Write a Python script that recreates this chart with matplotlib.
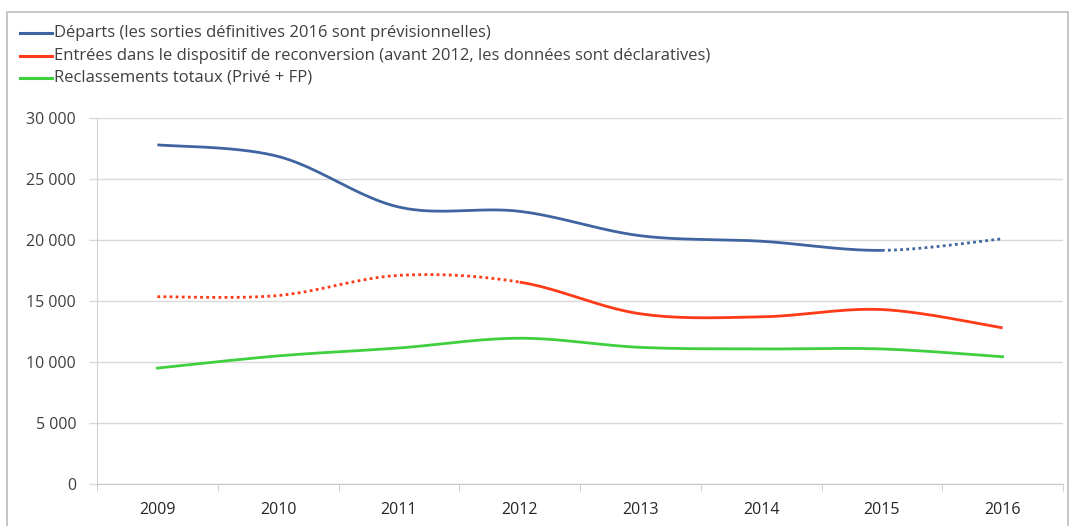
import numpy as np
import matplotlib
matplotlib.use("Agg")
import matplotlib.pyplot as plt
from matplotlib.lines import Line2D
from matplotlib.patches import Rectangle

plt.rcParams['font.family'] = ['Open Sans', 'DejaVu Sans']

years = ["2009", "2010", "2011", "2012", "2013", "2014", "2015", "2016"]
departs = [27800, 26850, 22700, 22350, 20350, 19900, 19150, 20100]
entrees = [15350, 15450, 17100, 16550, 13950, 13700, 14300, 12800]
reclassements = [9500, 10500, 11150, 11950, 11200, 11070, 11070, 10430]
labels = ["Départs (les sorties définitives 2016 sont prévisionnelles)",
          "Entrées dans le dispositif de reconversion (avant 2012, les données sont déclaratives)",
          "Reclassements totaux (Privé + FP)"]
colors = ["#3F64A0", "#FF3A17", "#3FCF3F"]
yticks = [0, 5000, 10000, 15000, 20000, 25000, 30000]

W, H = 1072, 526


def catmull(x, y, n=40):
    x = np.asarray(x, float); y = np.asarray(y, float)
    px = np.concatenate([[x[0]], x, [x[-1]]])
    py = np.concatenate([[y[0]], y, [y[-1]]])
    xs, ys, seg = [], [], []
    for i in range(1, len(px)-2):
        t = np.linspace(0, 1, n)
        p0, p1, p2, p3 = [np.array([px[j], py[j]]) for j in (i-1, i, i+1, i+2)]
        b1 = p1 + (p2 - p0) / 6
        b2 = p2 - (p3 - p1) / 6
        pts = ((1-t)**3)[:, None]*p1 + (3*(1-t)**2*t)[:, None]*b1 + (3*(1-t)*t**2)[:, None]*b2 + (t**3)[:, None]*p2
        xs.append(pts[:, 0]); ys.append(pts[:, 1]); seg.append(np.full(n, i-1))
    return np.concatenate(xs), np.concatenate(ys), np.concatenate(seg)


fig = plt.figure(figsize=(W/100, H/100), dpi=100)
ax = fig.add_axes([97/W, 1-484/H, (1063-97)/W, (484-118)/H])

xpos = np.arange(len(years))

# departs: solid up to 2015, dotted 2015-2016
sx, sy, sg = catmull(xpos, departs)
m = sg < 6
ax.plot(sx[m], sy[m], color=colors[0], lw=2.0, solid_capstyle='butt')
m = sg >= 6
ax.plot(sx[m], sy[m], color=colors[0], lw=2.0, ls=(0, (1, 1.2)))

# entrees: dotted up to 2012, solid after
sx, sy, sg = catmull(xpos, entrees)
m = sg < 3
ax.plot(sx[m], sy[m], color=colors[1], lw=2.0, ls=(0, (1, 1.2)))
m = sg >= 3
ax.plot(sx[m], sy[m], color=colors[1], lw=2.0, solid_capstyle='butt')

sx, sy, sg = catmull(xpos, reclassements)
ax.plot(sx, sy, color=colors[2], lw=2.0)

ax.set_xlim(-0.5, len(years) - 0.5)
ax.set_ylim(0, 30000)
ax.set_yticks(yticks)
ax.set_yticklabels([f"{v:,}".replace(",", " ") for v in yticks], fontsize=11.5, color="#404040")
ax.set_xticks(xpos)
ax.set_xticklabels(years, fontsize=11.5, color="#262626")
ax.tick_params(axis='x', length=0, pad=13)
ax.tick_params(axis='y', length=6, pad=9, color="#D9D9D9", width=1)
ax.set_xticks(np.arange(-0.5, len(years), 1), minor=True)
ax.tick_params(axis='x', which='minor', length=5, color="#C8C8C8", direction='out')
ax.yaxis.grid(True, color="#D9D9D9", lw=1)
ax.set_axisbelow(True)
for s in ['top', 'right']:
    ax.spines[s].set_visible(False)
ax.spines['left'].set_color("#D0D0D0")
ax.spines['bottom'].set_color("#C8C8C8")

# legend
rows_y = [33, 56, 78]
for c, lab, yy in zip(colors, labels, rows_y):
    fy = 1 - yy/H
    fig.add_artist(Line2D([20/W, 52/W], [fy, fy], transform=fig.transFigure, color=c, lw=2.2))
    fig.text(54/W, fy, lab, fontsize=12, color="#404040", va='center', ha='left')

fig.patches.append(Rectangle((7/W, -0.01), (1068-7)/W, 1 - 12/H + 0.01, transform=fig.transFigure,
                             fill=False, edgecolor="#BBBBBB", lw=1.2))

fig.savefig("out.png", dpi=100)
